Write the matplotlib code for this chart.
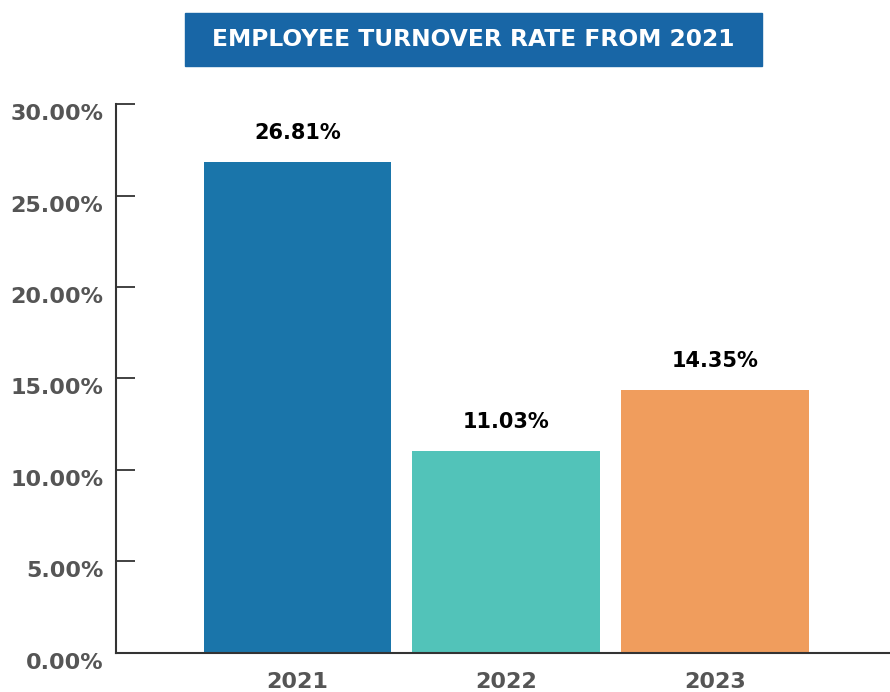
import matplotlib
matplotlib.use('Agg')
import matplotlib.pyplot as plt
from matplotlib.ticker import FuncFormatter

years = ['2021', '2022', '2023']
rates = [26.81, 11.03, 14.35]
colors = ['#1a75aa', '#52c3b9', '#f09d5d']
title = 'EMPLOYEE TURNOVER RATE FROM 2021'

plt.rcParams['font.family'] = ['DejaVu Sans']

fig = plt.figure(figsize=(8.9, 6.92), dpi=100)
ax = fig.add_axes([0.1303, 0.0564, 0.8697, 0.7933])

x = list(range(len(years)))
bars = ax.bar(x, rates, width=0.9, color=colors)

for xi, v in zip(x, rates):
    ax.text(xi, v + 1.05, f'{v:.2f}%', ha='center', va='bottom',
            fontsize=15, fontweight='bold', color='black')

ax.set_xlim(-0.87, 2.84)
ax.set_ylim(0, 30)
ax.set_yticks([0, 5, 10, 15, 20, 25, 30])
ax.yaxis.set_major_formatter(FuncFormatter(lambda v, p: f'{v:.2f}%'))
ax.set_xticks(x)
ax.set_xticklabels(years)

for s in ['top', 'right']:
    ax.spines[s].set_visible(False)
ax.spines['left'].set_color('#333333')
ax.spines['bottom'].set_color('#333333')
ax.spines['left'].set_linewidth(1.5)
ax.spines['bottom'].set_linewidth(1.5)

ax.tick_params(axis='y', direction='in', length=14, width=1.3, color='#333333',
               labelsize=16, labelcolor='#555555', pad=9)
ax.tick_params(axis='x', length=0, labelsize=16, labelcolor='#555555', pad=14)
for lab in ax.get_yticklabels() + ax.get_xticklabels():
    lab.set_fontweight('bold')
for lab in ax.get_yticklabels():
    lab.set_va('top')
    lab.set_y(0)

# title banner
fig.patches.append(plt.Rectangle((185 / 890, 1 - 66 / 692), (762 - 185) / 890, 53 / 692,
                                 transform=fig.transFigure, color='#1866a6', zorder=0))
fig.text((185 + 762) / 2 / 890, 1 - 40 / 692, title, ha='center', va='center',
         color='white', fontsize=16.8, fontweight='bold')

fig.savefig('out.png', dpi=100)
